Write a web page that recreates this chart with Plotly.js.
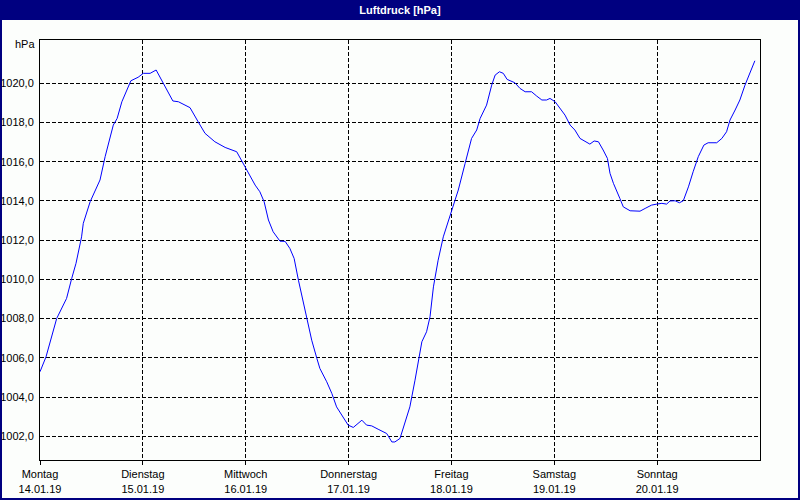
<!DOCTYPE html>
<html>
<head>
<meta charset="utf-8">
<script src="https://cdn.plot.ly/plotly-3.0.1.min.js"></script>
<style>
html,body{margin:0;padding:0;background:#fcfefc;}
#chart{width:800px;height:500px;}
</style>
</head>
<body>
<div id="chart"></div>
<script>
// Hours since Monday 14.01.19 00:00
const hours = [0, 1.4, 3.9, 6.2, 7.4, 8.4, 9.7, 10.1, 11.7, 12.8, 14.0, 15.2, 16.3, 17.1, 18.0, 19.1, 21.2, 22.9, 24.1, 25.7, 27.1,
  28.0, 29.2, 31.0, 32.3, 35.0, 36.9, 38.5, 40.8, 43.2, 45.9, 48.2, 50.2, 51.3, 52.3, 53.3, 54.4, 56.0, 57.2,
  58.3, 59.3, 60.3, 61.3, 62.4, 63.4, 64.6, 65.3, 66.9, 68.1, 69.2, 70.8, 71.9, 73.1, 75.1, 76.2, 77.4, 78.9, 80.9, 82.1, 82.8, 84.0,
  85.2, 86.3, 87.5, 88.3, 89.1, 90.2, 91.0, 91.8, 92.9, 94.1, 95.3, 96.4, 97.6, 99.2, 100.7, 101.9, 102.7, 104.2, 105.4, 106.2, 107.2, 108.1, 109.0, 110.8,
  112.0, 113.2, 114.7, 115.9, 117.1, 118.2, 119.0, 120.2, 121.3, 122.5, 123.7, 124.8, 126.0, 127.6, 128.3, 129.3, 130.3, 131.4, 132.4, 133.0, 133.8, 135.3, 136.1, 137.7,
  140.0, 141.2, 142.7, 143.9, 145.1, 146.2, 147.0, 148.2, 149.2, 150.1, 151.3, 152.4, 153.6, 154.9, 155.9, 157.9, 159.1, 160.2, 161.0, 162.2, 163.3, 164.5, 165.7, 166.8];
const pressure = [1005.29, 1006.05, 1008.01, 1009.03, 1010.05, 1010.82, 1012.17, 1012.86, 1013.96, 1014.47, 1015.07, 1016.26, 1017.19, 1017.87, 1018.21, 1019.06, 1020.13, 1020.31, 1020.51, 1020.51, 1020.68,
  1020.31, 1019.83, 1019.10, 1019.06, 1018.76, 1018.04, 1017.45, 1017.02, 1016.73, 1016.51, 1015.58, 1014.81, 1014.47, 1013.96, 1013.03, 1012.43, 1011.95, 1011.94,
  1011.58, 1011.07, 1009.96, 1008.94, 1007.92, 1006.90, 1005.97, 1005.46, 1004.78, 1004.18, 1003.50, 1002.91, 1002.57, 1002.45, 1002.82, 1002.57, 1002.53, 1002.36, 1002.14, 1001.71, 1001.71, 1001.89,
  1002.73, 1003.50, 1004.86, 1005.88, 1006.82, 1007.33, 1008.09, 1009.62, 1010.98, 1012.17, 1013.03, 1013.70, 1014.56, 1015.92, 1017.19, 1017.62, 1018.21, 1018.89, 1019.91, 1020.42, 1020.59, 1020.51, 1020.20, 1020.03,
  1019.74, 1019.57, 1019.57, 1019.35, 1019.15, 1019.15, 1019.23, 1019.06, 1018.72, 1018.38, 1017.87, 1017.62, 1017.19, 1016.97, 1016.90, 1017.06, 1017.02, 1016.60, 1016.17, 1015.41, 1014.90, 1014.13, 1013.70, 1013.50,
  1013.48, 1013.62, 1013.79, 1013.84, 1013.88, 1013.84, 1014.00, 1014.01, 1013.91, 1014.01, 1014.72, 1015.49, 1016.26, 1016.85, 1016.97, 1016.97, 1017.19, 1017.53, 1018.13, 1018.64, 1019.15, 1019.91, 1020.59, 1021.15];

const dayNames = ["Montag", "Dienstag", "Mittwoch", "Donnerstag", "Freitag", "Samstag", "Sonntag"];
const dayDates = ["14.01.19", "15.01.19", "16.01.19", "17.01.19", "18.01.19", "19.01.19", "20.01.19"];
const dayHours = [0, 24, 48, 72, 96, 120, 144];
const yTickVals = [1002, 1004, 1006, 1008, 1010, 1012, 1014, 1016, 1018, 1020];
const yTickText = ["1002,0", "1004,0", "1006,0", "1008,0", "1010,0", "1012,0", "1014,0", "1016,0", "1018,0", "1020,0"];

const navy = "#000080";
const font = {family: "Liberation Sans, Arial, sans-serif", size: 11, color: "#000000"};

const trace = {
  x: hours, y: pressure, type: "scatter", mode: "lines",
  line: {color: "#0000ff", width: 1}, hoverinfo: "skip"
};

const layout = {
  width: 800, height: 500,
  margin: {l: 40, r: 40, t: 40, b: 40, pad: 0},
  paper_bgcolor: "#fcfefc", plot_bgcolor: "#fcfefc",
  font: font,
  showlegend: false,
  title: {
    text: "<b>Luftdruck [hPa]</b>",
    font: {family: "Liberation Sans, Arial, sans-serif", size: 11, color: "#ffffff"},
    x: 0.5, xref: "container", xanchor: "center",
    y: 1 - 10 / 500, yref: "container", yanchor: "middle"
  },
  xaxis: {
    range: [0, 168], tickvals: dayHours,
    ticktext: dayNames.map((d, i) => d + "<br>" + dayDates[i]),
    ticks: "outside", ticklen: 4, tickcolor: "#000000", tickwidth: 1,
    showline: true, mirror: true, linecolor: "#000000", linewidth: 1,
    showgrid: true, gridcolor: "#000000", gridwidth: 1, griddash: "4px,2px",
    zeroline: false, fixedrange: true, tickfont: font
  },
  yaxis: {
    range: [1000.79, 1022.21], tickvals: yTickVals, ticktext: yTickText,
    ticks: "", ticklabelstandoff: 3,
    showline: true, mirror: true, linecolor: "#000000", linewidth: 1,
    showgrid: true, gridcolor: "#000000", gridwidth: 1, griddash: "4px,2px",
    zeroline: false, fixedrange: true, tickfont: font
  },
  shapes: [
    {type: "rect", xref: "paper", yref: "paper",
     x0: -40 / 720, x1: 760 / 720, y0: 440 / 420, y1: 460 / 420,
     fillcolor: navy, line: {width: 0}, layer: "below"},
    {type: "rect", xref: "paper", yref: "paper",
     x0: -39 / 720, x1: 759 / 720, y0: -39 / 420, y1: 459 / 420,
     fillcolor: "rgba(0,0,0,0)", line: {color: navy, width: 2}, layer: "above"}
  ],
  annotations: [
    {text: "hPa", xref: "paper", yref: "paper", x: -3 / 720, y: (460 - 44.5) / 420,
     xanchor: "right", yanchor: "middle", showarrow: false, font: font}
  ]
};

Plotly.newPlot("chart", [trace], layout, {staticPlot: true, displayModeBar: false});
</script>
</body>
</html>
